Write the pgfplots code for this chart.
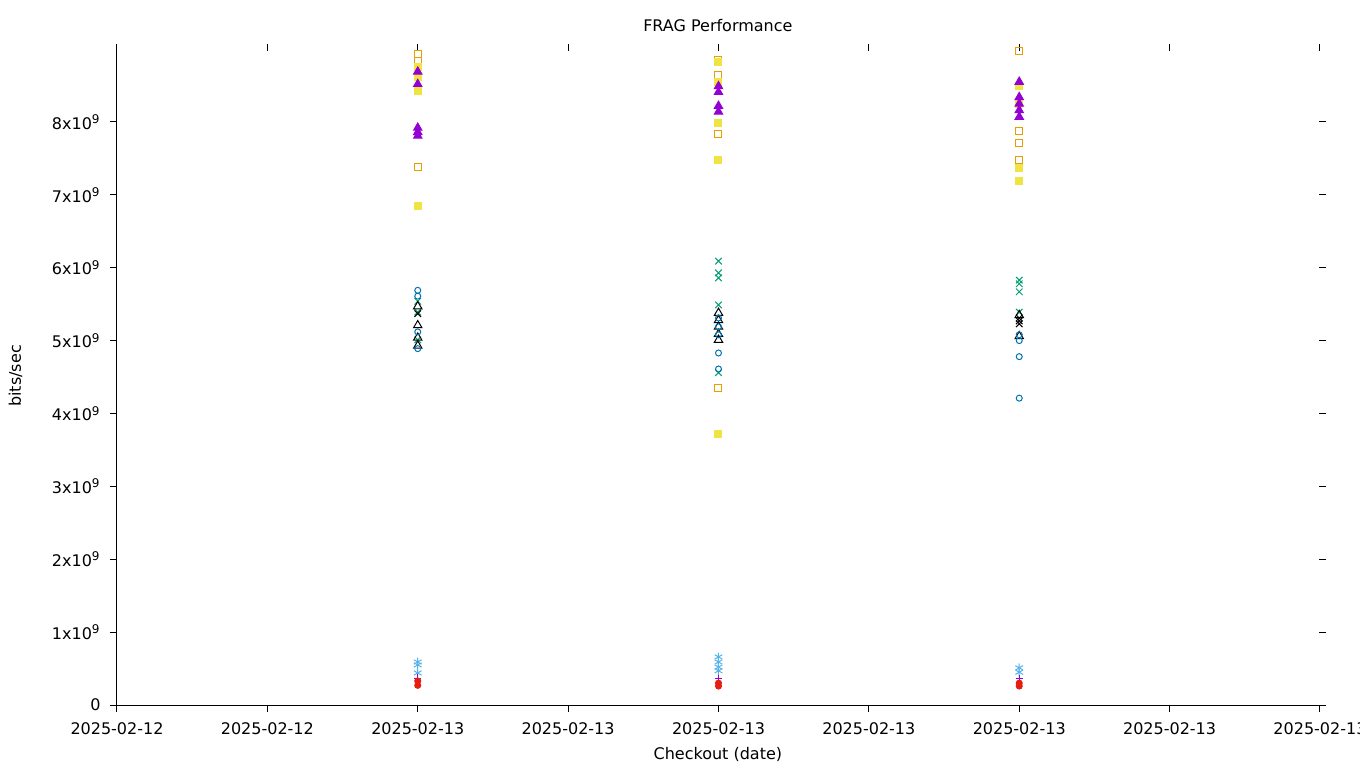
\documentclass[border=0pt]{standalone}
\usepackage{pgfplots}
\pgfplotsset{compat=1.18}
\usepackage{fontspec}
\setmainfont{DejaVu Sans}

\definecolor{cyel}{HTML}{F0E442}
\definecolor{corg}{HTML}{E69F00}
\definecolor{cpur}{HTML}{9400D3}
\definecolor{cgrn}{HTML}{009E73}
\definecolor{cblu}{HTML}{0072B2}
\definecolor{clbl}{HTML}{56B4E9}
\definecolor{cred}{HTML}{E51E10}

\pgfplotsset{
  frag/.style={
    at={(0,0)}, anchor=south west, scale only axis,
    width=604.5pt, height=330.5pt,
    xmin=0, xmax=8.04, ymin=0, ymax=9.07e9,
    xtick={0,1,2,3,4,5,6,7,8},
    ytick={0,1e9,2e9,3e9,4e9,5e9,6e9,7e9,8e9},
    scaled y ticks=false,
    major tick length=3.5pt,
    every tick/.style={black, line width=0.5pt},
    axis line style={line width=0.5pt},
    /pgf/number format/assume math mode=true,
  },
  pts/.style={only marks, mark options={line width=0.5pt}},
}

\begin{document}
\begin{tikzpicture}
\useasboundingbox (-58.5pt,-31.5pt) rectangle (621.5pt,352.5pt);
\fontsize{8}{9.6}\selectfont

% mirror ticks on top and right, pointing inwards
\begin{axis}[frag,
  axis x line*=top, axis y line*=right,
  axis line style={draw=none},
  tick align=inside,
  xtick={1,2,3,4,5,6,7,8},
  ytick={1e9,2e9,3e9,4e9,5e9,6e9,7e9,8e9},
  xticklabels={}, yticklabels={},
]
\addplot[draw=none] coordinates {(0,0)};
\end{axis}

\begin{axis}[frag,
  axis x line*=bottom, axis y line*=left,
  tick align=outside,
  xticklabels={2025-02-12,2025-02-12,2025-02-13,2025-02-13,2025-02-13,2025-02-13,2025-02-13,2025-02-13,2025-02-13},
  yticklabels={0,1x10\textsuperscript{9},2x10\textsuperscript{9},3x10\textsuperscript{9},4x10\textsuperscript{9},5x10\textsuperscript{9},6x10\textsuperscript{9},7x10\textsuperscript{9},8x10\textsuperscript{9}},
  xticklabel style={font=\fontsize{8}{9.6}\selectfont, inner sep=0pt, yshift=-5pt},
  yticklabel style={font=\fontsize{8}{9.6}\selectfont, inner sep=0pt, anchor=east, xshift=-4.5pt},
  title={FRAG Performance},
  title style={font=\fontsize{8}{9.6}\selectfont, at={(axis description cs:0.497,1)}, anchor=base, yshift=0pt, inner sep=0pt},
  xlabel={Checkout (date)},
  xlabel style={font=\fontsize{8}{9.6}\selectfont, at={(axis description cs:0.497,0)}, anchor=base, yshift=-27pt, inner sep=0pt},
  ylabel={bits/sec},
  ylabel style={font=\fontsize{8}{9.6}\selectfont, at={(axis description cs:-0.0794,0.498)}, anchor=base, rotate=0, inner sep=0pt},
]

% orange open squares
\addplot[pts, corg, mark=square, mark size=1.75pt] coordinates {
(2,8.93e9) (2,8.84e9) (2,7.38e9)
(4,8.85e9) (4,8.65e9) (4,7.83e9) (4,4.35e9)
(6,8.97e9) (6,7.88e9) (6,7.71e9) (6,7.48e9)
};

% yellow filled squares
\addplot[pts, cyel, mark=square*, mark size=1.75pt] coordinates {
(2,8.75e9) (2,8.62e9) (2,8.43e9) (2,6.85e9)
(4,8.82e9) (4,8.55e9) (4,7.98e9) (4,7.48e9) (4,3.72e9)
(6,8.49e9) (6,8.25e9) (6,7.37e9) (6,7.19e9)
};

% purple filled triangles
\addplot[pts, cpur, mark=triangle*, mark size=2.4pt] coordinates {
(2,8.69e9) (2,8.52e9) (2,7.92e9) (2,7.86e9) (2,7.81e9)
(4,8.49e9) (4,8.41e9) (4,8.22e9) (4,8.14e9)
(6,8.55e9) (6,8.34e9) (6,8.25e9) (6,8.16e9) (6,8.07e9)
};

% green crosses
\addplot[pts, cgrn, mark=x, mark size=2.3pt] coordinates {
(2,5.54e9) (2,5.39e9) (2,5.01e9)
(4,6.09e9) (4,5.93e9) (4,5.86e9) (4,5.49e9) (4,4.56e9)
(6,5.83e9) (6,5.78e9) (6,5.67e9) (6,5.39e9)
};

% black open triangles
\addplot[pts, black, mark=triangle, mark size=2.4pt] coordinates {
(2,5.47e9) (2,5.21e9) (2,5.04e9) (2,4.93e9)
(4,5.38e9) (4,5.28e9) (4,5.19e9) (4,5.09e9) (4,5.01e9)
(6,5.35e9) (6,5.06e9)
};

% black crosses
\addplot[pts, black, mark=x, mark size=2.3pt] coordinates {
(2,5.37e9)
(6,5.31e9) (6,5.27e9) (6,5.23e9)
};

% blue open circles
\addplot[pts, cblu, mark=o, mark size=1.5pt] coordinates {
(2,5.69e9) (2,5.61e9) (2,5.12e9) (2,4.89e9)
(4,5.31e9) (4,5.19e9) (4,5.08e9) (4,4.83e9) (4,4.61e9)
(6,5.08e9) (6,5.00e9) (6,4.78e9) (6,4.21e9)
};

% light blue asterisks
\addplot[pts, clbl, mark=asterisk, mark size=2.2pt] coordinates {
(2,0.59e9) (2,0.55e9) (2,0.44e9)
(4,0.66e9) (4,0.59e9) (4,0.52e9) (4,0.47e9)
(6,0.51e9) (6,0.45e9)
};

% purple plus
\addplot[pts, cpur, mark=+, mark size=1.8pt] coordinates {
(2,0.37e9) (4,0.36e9) (6,0.36e9)
};

% red filled circles
\addplot[pts, cred, mark=*, mark size=1.5pt] coordinates {
(2,0.33e9) (2,0.27e9)
(4,0.30e9) (4,0.26e9)
(6,0.30e9) (6,0.26e9)
};

\end{axis}
\end{tikzpicture}
\end{document}
